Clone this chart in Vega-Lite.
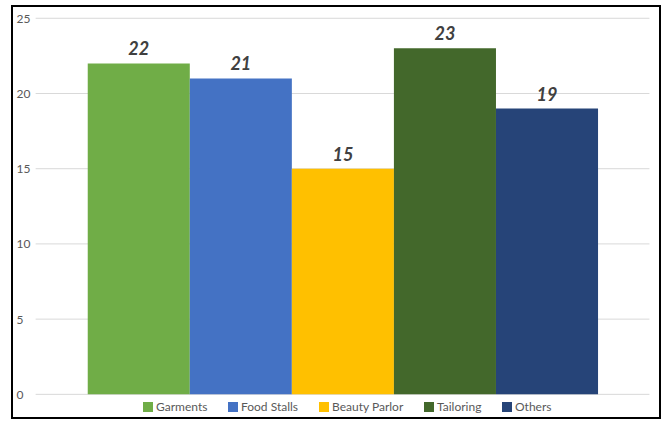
{
  "$schema": "https://vega.github.io/schema/vega-lite/v6.json",
  "width": 648,
  "height": 412,
  "autosize": {"type": "none"},
  "padding": {"left": 12, "top": 6, "right": 10, "bottom": 12},
  "background": "white",
  "config": {
    "view": {"stroke": "black", "strokeWidth": 2},
    "font": "Lato"
  },
  "resolve": {"scale": {"x": "independent"}},
  "layer": [
    {
      "data": {"values": [{"tick": 0}, {"tick": 5}, {"tick": 10}, {"tick": 15}, {"tick": 20}, {"tick": 25}]},
      "mark": {"type": "rule", "color": "#d9d9d9", "strokeWidth": 1},
      "encoding": {
        "y": {"field": "tick", "type": "quantitative"},
        "x": {"datum": 0, "type": "quantitative", "scale": {"domain": [-0.0385, 1.0172], "nice": false, "zero": false}, "axis": null},
        "x2": {"datum": 1}
      }
    },
    {
      "data": {"values": [
        {"category": "Garments", "value": 22},
        {"category": "Food Stalls", "value": 21},
        {"category": "Beauty Parlor", "value": 15},
        {"category": "Tailoring", "value": 23},
        {"category": "Others", "value": 19}
      ]},
      "layer": [
        {
          "mark": {"type": "bar"},
          "encoding": {
            "x": {
              "field": "category", "type": "nominal",
              "scale": {"domain": ["Garments", "Food Stalls", "Beauty Parlor", "Tailoring", "Others"], "paddingInner": 0, "paddingOuter": 0.6746, "align": 0.55},
              "axis": null
            },
            "y": {
              "field": "value", "type": "quantitative",
              "scale": {"domain": [-1.572, 25.816], "nice": false, "zero": false},
              "axis": {
                "values": [0, 5, 10, 15, 20, 25],
                "grid": false, "domain": false, "ticks": false,
                "labelAlign": "left", "labelPadding": -4,
                "labelColor": "#595959", "labelFontSize": 12,
                "title": null
              }
            },
            "y2": {"datum": 0},
            "color": {
              "field": "category", "type": "nominal",
              "scale": {
                "domain": ["Garments", "Food Stalls", "Beauty Parlor", "Tailoring", "Others"],
                "range": ["#70AD47", "#4472C4", "#FFC000", "#43682B", "#264478"]
              },
              "legend": {
                "orient": "none", "legendX": 130, "legendY": 395,
                "direction": "horizontal", "title": null,
                "symbolType": "square", "symbolSize": 100, "symbolStrokeWidth": 0,
                "labelFontSize": 12, "labelColor": "#595959", "labelOffset": 2,
                "columnPadding": 19
              }
            }
          }
        },
        {
          "mark": {"type": "text", "fontSize": 18, "fontWeight": "bold", "fontStyle": "italic", "color": "#404040", "baseline": "alphabetic", "dy": -8},
          "encoding": {
            "x": {"field": "category", "type": "nominal", "bandPosition": 0.5},
            "y": {"field": "value", "type": "quantitative"},
            "text": {"field": "value", "type": "quantitative"}
          }
        }
      ]
    }
  ]
}
